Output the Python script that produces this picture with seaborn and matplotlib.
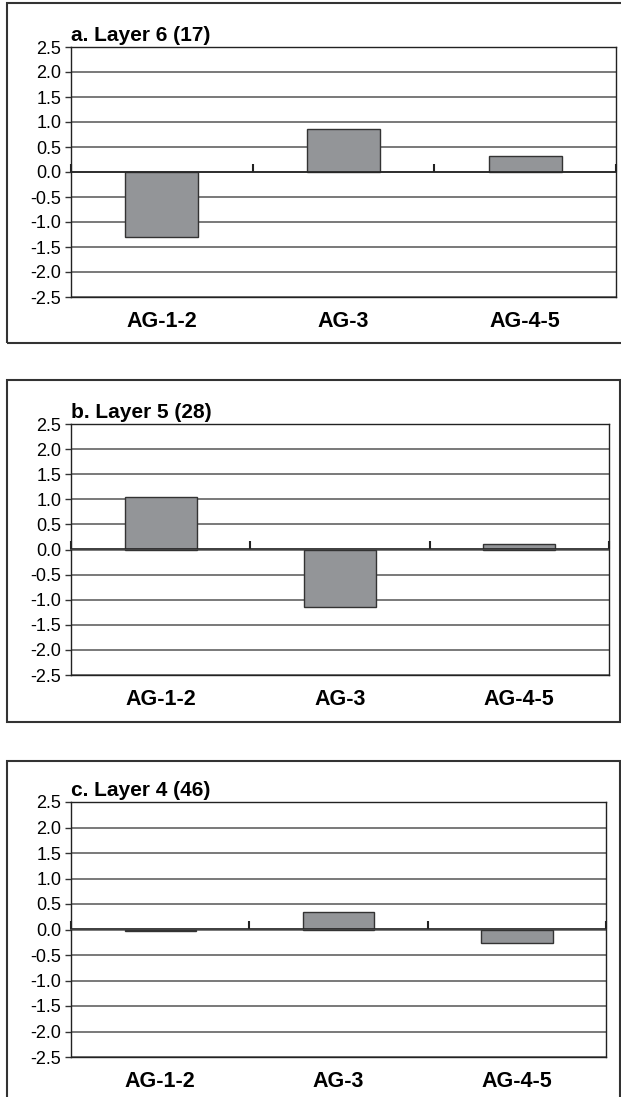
import matplotlib
matplotlib.use("Agg")
import matplotlib.pyplot as plt
import seaborn as sns
import pandas as pd
from matplotlib.patches import Rectangle

categories = ["AG-1-2", "AG-3", "AG-4-5"]
titles = ["a. Layer 6 (17)", "b. Layer 5 (28)", "c. Layer 4 (46)"]
layer6 = [-1.29, 0.86, 0.33]
layer5 = [1.05, -1.15, 0.10]
layer4 = [-0.03, 0.35, -0.26]
yticks = [-2.5, -2.0, -1.5, -1.0, -0.5, 0.0, 0.5, 1.0, 1.5, 2.0, 2.5]
boundaries = [-0.5, 0.5, 1.5, 2.5]

sns.set_theme(style="white")
plt.rcParams["font.family"] = ["Liberation Sans", "DejaVu Sans"]

W, H = 621, 1097
fig = plt.figure(figsize=(W / 100, H / 100), dpi=100)
fig.patch.set_facecolor("white")

panels = [
    dict(box=(7, 3, 623, 343), plot=(71, 47, 616, 297)),
    dict(box=(7, 380, 620, 722), plot=(71, 424, 609, 675)),
    dict(box=(7, 761, 620, 1102), plot=(71, 802, 606, 1057)),
]
series = [layer6, layer5, layer4]

for title, vals, p in zip(titles, series, panels):
    bx0, by0, bx1, by1 = p["box"]
    fig.patches.append(Rectangle((bx0 / W, 1 - by1 / H), (bx1 - bx0) / W, (by1 - by0) / H,
                                 transform=fig.transFigure, fill=False,
                                 edgecolor="#333333", linewidth=1.5, zorder=0))
    l, t, r, b = p["plot"]
    ax = fig.add_axes([l / W, 1 - b / H, (r - l) / W, (b - t) / H])
    df = pd.DataFrame({"group": categories, "value": vals})
    sns.barplot(data=df, x="group", y="value", color="#939598", saturation=1,
                edgecolor="#333333", linewidth=1.0, width=0.4, ax=ax, zorder=3)
    ax.set_xlim(-0.5, 2.5)
    ax.set_ylim(-2.5, 2.5)
    ax.set_yticks(yticks)
    ax.set_yticklabels([f"{v:.1f}" for v in yticks], fontsize=13, color="black")
    ax.set_axisbelow(True)
    ax.yaxis.grid(True, color="#555555", linewidth=1.1)
    ax.xaxis.grid(False)
    ax.set_xlabel("")
    ax.set_ylabel("")
    ax.tick_params(axis="y", direction="out", length=4, width=1, color="#333333", pad=3, left=True)
    ax.tick_params(axis="x", length=0, pad=10)
    for lab in ax.get_xticklabels():
        lab.set_fontweight("bold")
        lab.set_fontsize(15.5)
        lab.set_color("black")
    for s in ax.spines.values():
        s.set_visible(True)
        s.set_color("#222222")
        s.set_linewidth(1.0)
    ax.set_title(title, loc="left", fontweight="bold", fontsize=15, pad=4, color="black")
    # zero axis line with category-boundary ticks
    sec = ax.secondary_xaxis(0.5)
    sec.set_xticks(boundaries)
    sec.set_xticklabels([])
    sec.tick_params(direction="out", length=6, width=1.5, color="#222222")
    sec.spines["bottom"].set_linewidth(2.2)
    sec.spines["bottom"].set_color("#222222")
    sec.set_zorder(5)

fig.savefig("out.png", dpi=100, facecolor="white")
